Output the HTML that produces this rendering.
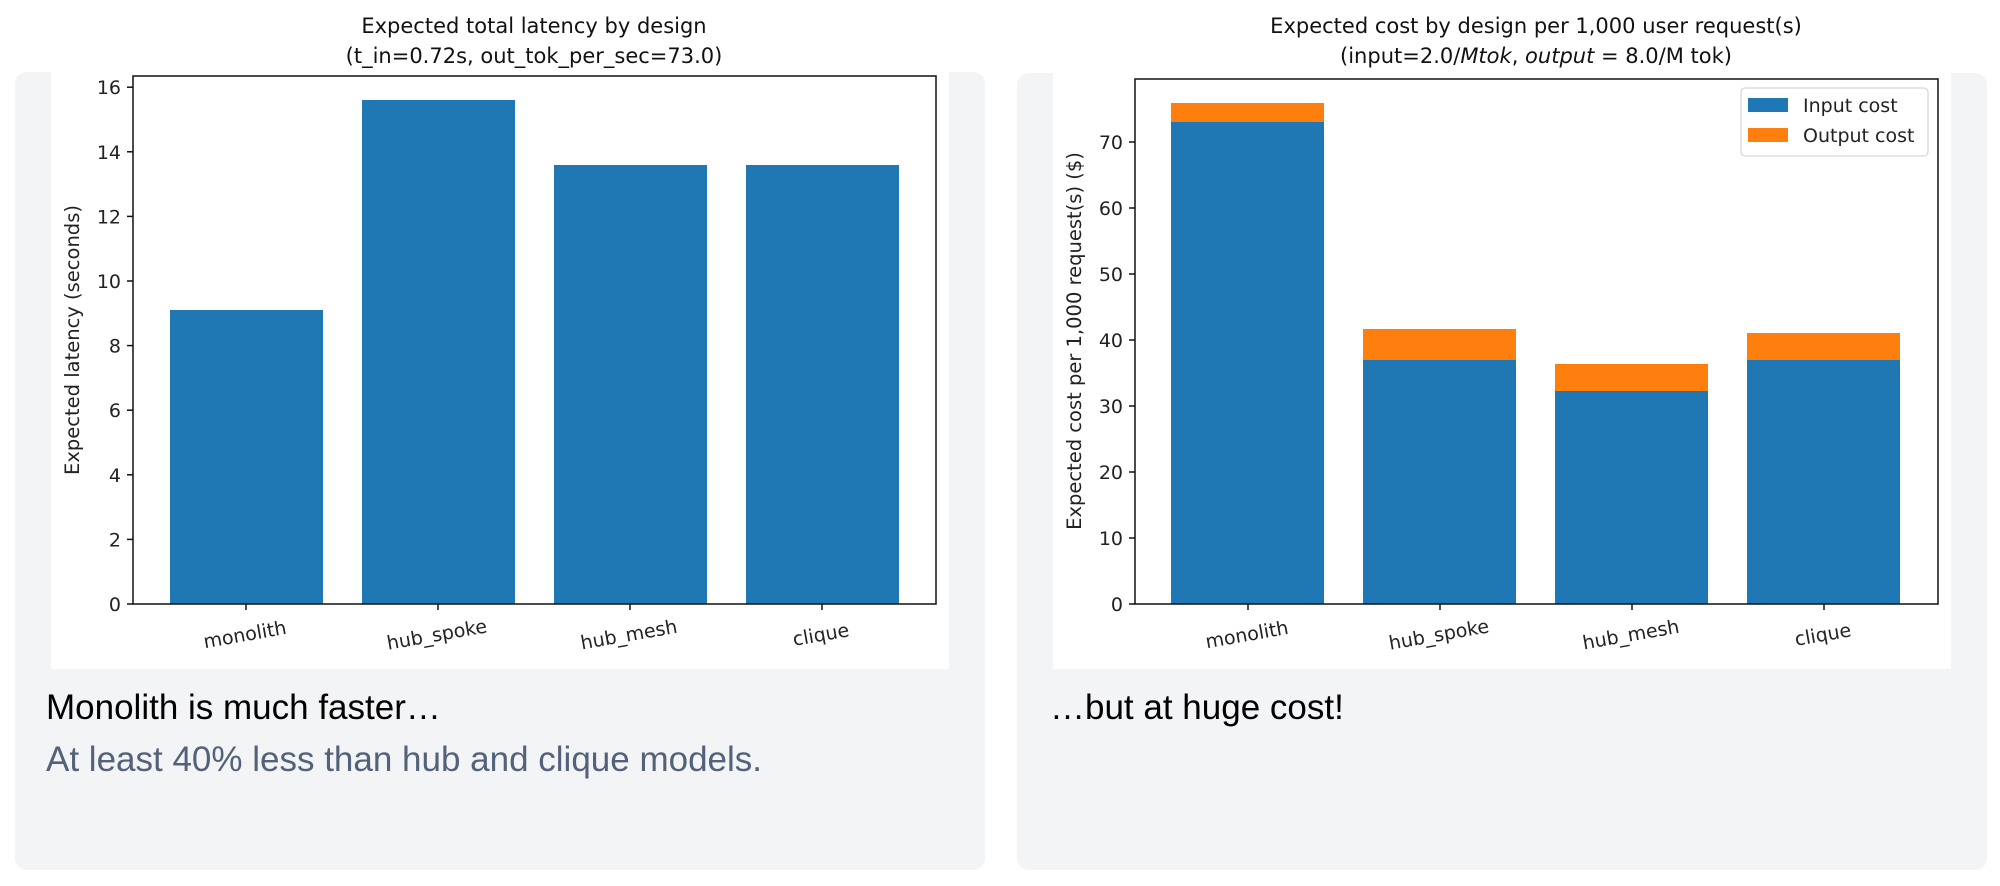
<!DOCTYPE html>
<html><head><meta charset="utf-8"><style>
html,body{margin:0;padding:0;background:#fff;width:2000px;height:886px;overflow:hidden;}
.card{position:absolute;background:#f3f4f6;border-radius:12px;}
.cap{position:absolute;font-family:"Liberation Sans",Arial,sans-serif;white-space:nowrap;}
svg{position:absolute;left:0;top:0;}
</style></head><body>
<div class="card" style="left:15px;top:72px;width:970px;height:798px"></div>
<div class="card" style="left:1017px;top:73px;width:970px;height:797px"></div>
<div class="cap" style="left:46px;top:688px;font-size:35px;color:#000">Monolith is much faster…</div>
<div class="cap" style="left:46px;top:740px;font-size:35px;color:#536179">At least 40% less than hub and clique models.</div>
<div class="cap" style="left:1050px;top:688px;font-size:35px;color:#000">…but at huge cost!</div>
<svg width="2000" height="886" xmlns="http://www.w3.org/2000/svg" font-family="DejaVu Sans, Liberation Sans, sans-serif" fill="#222">
<rect x="51" y="0" width="898" height="669" fill="#fff"/>
<rect x="1053" y="0" width="898" height="669" fill="#fff"/>
<!-- LEFT -->
<g text-anchor="middle" font-size="21" fill="#111">
<text x="534" y="33">Expected total latency by design</text>
<text x="534" y="63">(t_in=0.72s, out_tok_per_sec=73.0)</text>
</g>
<g fill="#1f77b4">
<rect x="170" y="310" width="153" height="294"/>
<rect x="362" y="100" width="153" height="504"/>
<rect x="554" y="165" width="153" height="439"/>
<rect x="746" y="165" width="153" height="439"/>
</g>
<rect x="133" y="76" width="803" height="528" fill="none" stroke="#111" stroke-width="1.5"/>
<g stroke="#111" stroke-width="1.5">
<line x1="127" y1="604" x2="133" y2="604"/><line x1="127" y1="539.4" x2="133" y2="539.4"/><line x1="127" y1="474.8" x2="133" y2="474.8"/><line x1="127" y1="410.2" x2="133" y2="410.2"/><line x1="127" y1="345.6" x2="133" y2="345.6"/><line x1="127" y1="281" x2="133" y2="281"/><line x1="127" y1="216.4" x2="133" y2="216.4"/><line x1="127" y1="151.8" x2="133" y2="151.8"/><line x1="127" y1="87.2" x2="133" y2="87.2"/>
<line x1="246" y1="604" x2="246" y2="610"/><line x1="438" y1="604" x2="438" y2="610"/><line x1="630" y1="604" x2="630" y2="610"/><line x1="822" y1="604" x2="822" y2="610"/>
</g>
<g text-anchor="end" font-size="19">
<text x="121" y="611">0</text><text x="121" y="546.4">2</text><text x="121" y="481.8">4</text><text x="121" y="417.2">6</text><text x="121" y="352.6">8</text><text x="121" y="288">10</text><text x="121" y="223.4">12</text><text x="121" y="158.8">14</text><text x="121" y="94.2">16</text>
</g>
<g text-anchor="middle" font-size="19">
<text transform="translate(246,641) rotate(-10)">monolith</text>
<text transform="translate(438,641) rotate(-10)">hub_spoke</text>
<text transform="translate(630,641) rotate(-10)">hub_mesh</text>
<text transform="translate(822,641) rotate(-10)">clique</text>
<text transform="translate(79,340) rotate(-90)" font-size="19.5">Expected latency (seconds)</text>
</g>
<!-- RIGHT -->
<g text-anchor="middle" font-size="21" fill="#111">
<text x="1536" y="33">Expected cost by design per 1,000 user request(s)</text>
<text x="1536" y="63">(input=2.0/<tspan font-style="italic">Mtok</tspan>, <tspan font-style="italic">output</tspan> = 8.0/M tok)</text>
</g>
<g>
<rect x="1171" y="103" width="153" height="19" fill="#ff7f0e"/><rect x="1171" y="122" width="153" height="482" fill="#1f77b4"/>
<rect x="1363" y="329" width="153" height="31" fill="#ff7f0e"/><rect x="1363" y="360" width="153" height="244" fill="#1f77b4"/>
<rect x="1555" y="364" width="153" height="27" fill="#ff7f0e"/><rect x="1555" y="391" width="153" height="213" fill="#1f77b4"/>
<rect x="1747" y="333" width="153" height="27" fill="#ff7f0e"/><rect x="1747" y="360" width="153" height="244" fill="#1f77b4"/>
</g>
<rect x="1135" y="79" width="803" height="525" fill="none" stroke="#111" stroke-width="1.5"/>
<g stroke="#111" stroke-width="1.5">
<line x1="1129" y1="604" x2="1135" y2="604"/><line x1="1129" y1="538" x2="1135" y2="538"/><line x1="1129" y1="472" x2="1135" y2="472"/><line x1="1129" y1="406" x2="1135" y2="406"/><line x1="1129" y1="340" x2="1135" y2="340"/><line x1="1129" y1="274" x2="1135" y2="274"/><line x1="1129" y1="208" x2="1135" y2="208"/><line x1="1129" y1="142" x2="1135" y2="142"/>
<line x1="1248" y1="604" x2="1248" y2="610"/><line x1="1440" y1="604" x2="1440" y2="610"/><line x1="1632" y1="604" x2="1632" y2="610"/><line x1="1824" y1="604" x2="1824" y2="610"/>
</g>
<g text-anchor="end" font-size="19">
<text x="1123" y="611">0</text><text x="1123" y="545">10</text><text x="1123" y="479">20</text><text x="1123" y="413">30</text><text x="1123" y="347">40</text><text x="1123" y="281">50</text><text x="1123" y="215">60</text><text x="1123" y="149">70</text>
</g>
<g text-anchor="middle" font-size="19">
<text transform="translate(1248,641) rotate(-10)">monolith</text>
<text transform="translate(1440,641) rotate(-10)">hub_spoke</text>
<text transform="translate(1632,641) rotate(-10)">hub_mesh</text>
<text transform="translate(1824,641) rotate(-10)">clique</text>
<text transform="translate(1081,341) rotate(-90)" font-size="19.5">Expected cost per 1,000 request(s) ($)</text>
</g>
<rect x="1741" y="88" width="187" height="68" rx="4" fill="#fff" fill-opacity="0.85" stroke="#ccc" stroke-width="1"/>
<rect x="1748" y="98" width="40" height="14" fill="#1f77b4"/>
<rect x="1748" y="128" width="40" height="14" fill="#ff7f0e"/>
<g font-size="19"><text x="1803" y="112">Input cost</text><text x="1803" y="142">Output cost</text></g>
</svg>
</body></html>
